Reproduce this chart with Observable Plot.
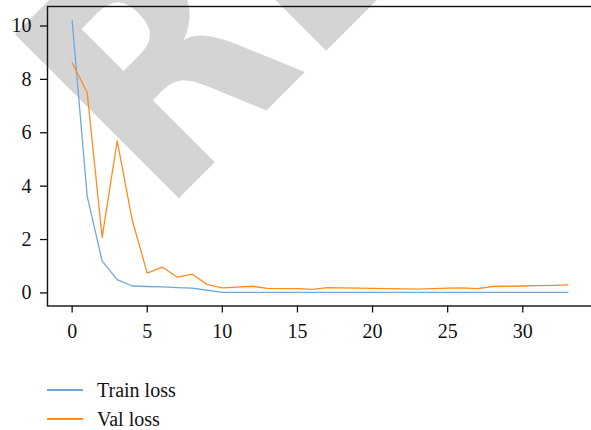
<!DOCTYPE html>
<html><head><meta charset="utf-8">
<script src="https://cdn.jsdelivr.net/npm/d3@7"></script>
<script src="https://cdn.jsdelivr.net/npm/@observablehq/plot@0.6"></script>
<style>
body{margin:0;background:#fff;}
#wrap{position:relative;width:591px;height:430px;overflow:hidden;font-family:"Liberation Serif",serif;}
#wm{position:absolute;left:0;top:0;}
#chart{position:absolute;left:0;top:0;}
#chart svg, #chart svg text{font-family:"Liberation Serif",serif !important;}
#legend{position:absolute;left:47px;top:375.5px;font-size:20px;color:#111;font-family:"Liberation Serif",serif;}
.row{display:flex;align-items:center;height:29px;line-height:29px;}
.sw{width:36px;height:1.5px;margin-right:14px;}
</style></head><body>
<div id="wrap">
<svg id="wm" width="591" height="430"><text transform="translate(161.2,215.8) rotate(-45) scale(0.852,1)" font-family="DejaVu Sans" font-weight="bold" font-size="318" fill="#d4d4d4">RETRACTED</text></svg>
<div id="chart"></div>
<div id="legend"></div>
</div>
<script>
const epochs = d3.range(34);
const trainLoss = [10.2, 3.63, 1.19, 0.50, 0.26, 0.24, 0.23, 0.20, 0.18, 0.10, 0.02, 0.02, 0.02, 0.02, 0.02, 0.02, 0.02, 0.02, 0.02, 0.02, 0.02, 0.02, 0.02, 0.02, 0.02, 0.02, 0.02, 0.02, 0.02, 0.02, 0.02, 0.02, 0.02, 0.02];
const valLoss = [8.62, 7.51, 2.08, 5.70, 2.73, 0.74, 0.97, 0.59, 0.70, 0.31, 0.19, 0.22, 0.25, 0.17, 0.16, 0.16, 0.13, 0.20, 0.19, 0.18, 0.17, 0.16, 0.15, 0.14, 0.16, 0.18, 0.19, 0.16, 0.24, 0.25, 0.26, 0.27, 0.28, 0.30];
const seriesNames = ["Train loss", "Val loss"];
const seriesColors = ["#6fa8dc", "#ff8c1e"];
const xTicks = [0, 5, 10, 15, 20, 25, 30];
const yTicks = [0, 2, 4, 6, 8, 10];

const rows = [
  ...epochs.map((e, i) => ({epoch: e, loss: trainLoss[i], series: seriesNames[0]})),
  ...epochs.map((e, i) => ({epoch: e, loss: valLoss[i], series: seriesNames[1]}))
];

const chart = Plot.plot({
  width: 591, height: 350,
  marginLeft: 47, marginTop: 6, marginRight: -2, marginBottom: 44.5,
  style: {fontFamily: "'Liberation Serif', serif", fontSize: "20px", background: "transparent", overflow: "visible", color: "#111"},
  x: {domain: [-1.64, 34.71]},
  y: {domain: [-0.49, 10.73]},
  color: {domain: seriesNames, range: seriesColors},
  marks: [
    Plot.frame({stroke: "#111", strokeWidth: 1.4}),
    Plot.axisX({ticks: xTicks, tickSize: 7, tickPadding: 11, label: null, strokeWidth: 1.3}),
    Plot.axisY({ticks: yTicks, tickSize: 7, tickPadding: 9, label: null, strokeWidth: 1.3}),
    Plot.line(rows, {x: "epoch", y: "loss", stroke: "series", z: "series", strokeWidth: 1.3})
  ]
});
d3.select(chart).attr("font-family", "Liberation Serif");
d3.select(chart).selectAll("g, text").attr("font-family", "Liberation Serif").style("font-family", "'Liberation Serif', serif").style("font-variant", "normal");
document.getElementById("chart").appendChild(chart);

const legend = d3.select("#legend");
seriesNames.forEach((name, i) => {
  const r = legend.append("div").attr("class", "row");
  r.append("div").attr("class", "sw").style("background", seriesColors[i]);
  r.append("span").text(name);
});
</script>
</body></html>
